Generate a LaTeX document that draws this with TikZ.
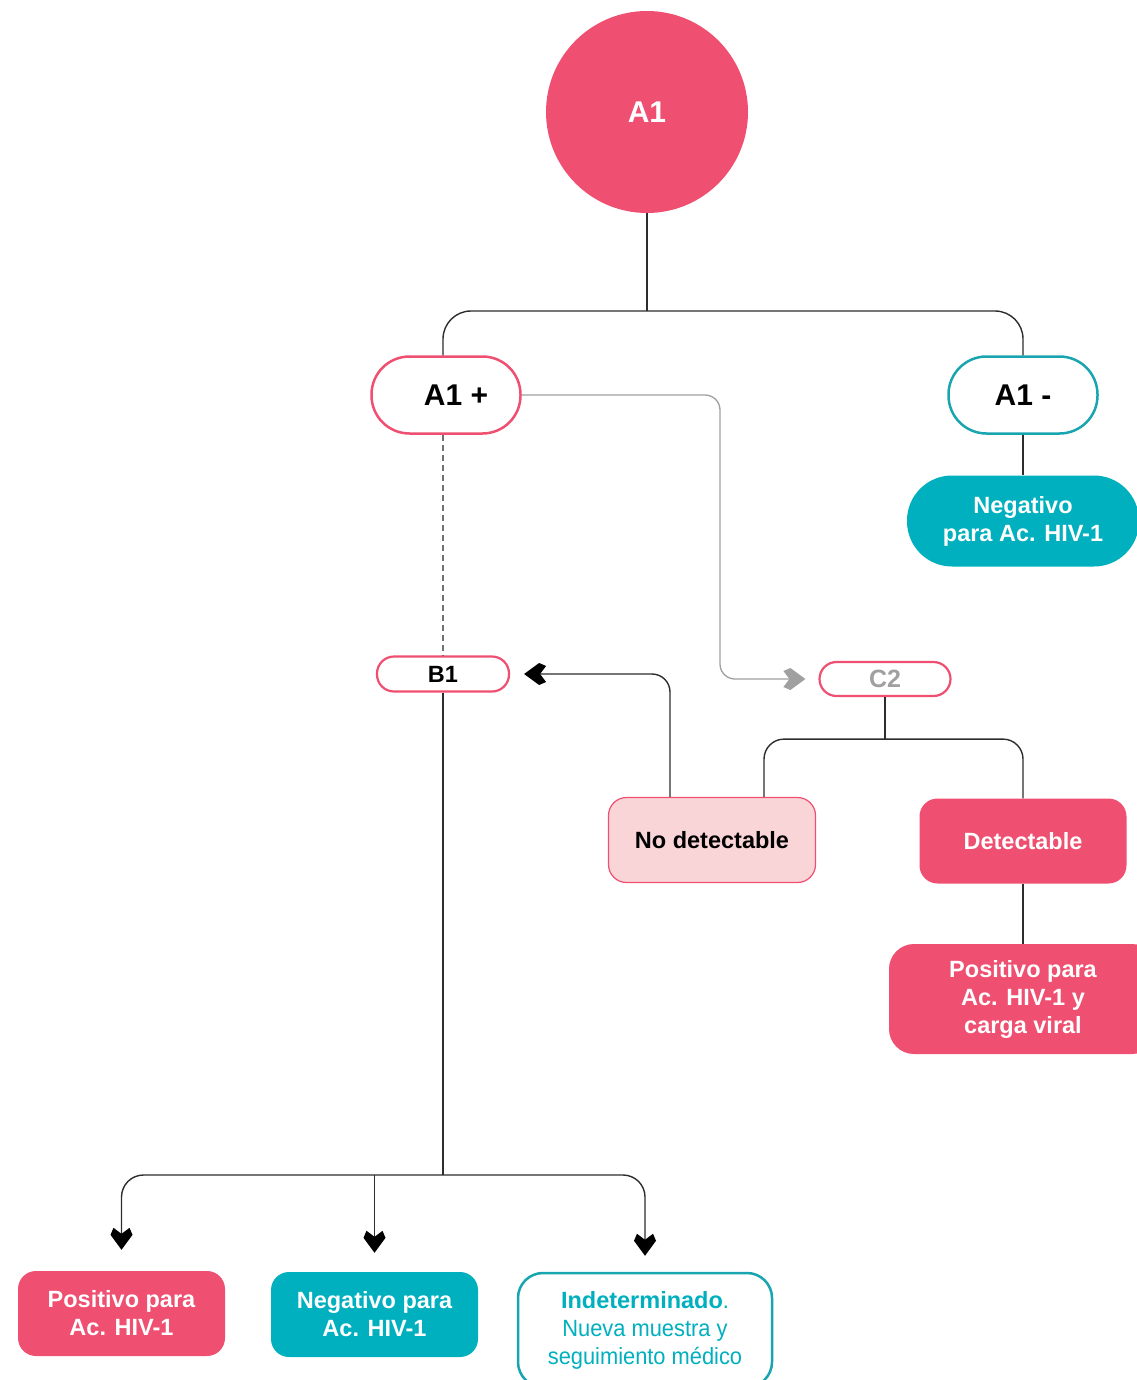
\documentclass[tikz,border=0pt]{standalone}
\usepackage{fontspec}
\setmainfont{Liberation Sans}
\newfontfamily\regnarrow[FakeStretch=0.93]{Liberation Sans}
\usetikzlibrary{arrows.meta}
\definecolor{pk}{RGB}{239,79,112}
\definecolor{tl}{RGB}{0,176,190}
\definecolor{tlb}{RGB}{25,165,176}
\definecolor{lpk}{RGB}{250,213,215}
\definecolor{gr}{RGB}{160,160,160}
\definecolor{ln}{RGB}{45,45,45}
\newcommand\szbig{\fontsize{30}{34}\selectfont\bfseries}
\newcommand\szmid{\fontsize{23.5}{28}\selectfont}
\newcommand\chevpath{%
    \pgfpathmoveto{\pgfqpoint{0pt}{0pt}}%
    \pgfpathlineto{\pgfqpoint{-15pt}{11pt}}%
    \pgfpathlineto{\pgfqpoint{-22pt}{8pt}}%
    \pgfpathlineto{\pgfqpoint{-16pt}{0pt}}%
    \pgfpathlineto{\pgfqpoint{-22pt}{-8pt}}%
    \pgfpathlineto{\pgfqpoint{-15pt}{-11pt}}%
    \pgfpathclose}
\pgfdeclarearrow{
  name=ChevK,
  setup code={
    \pgfarrowssettipend{0pt}
    \pgfarrowssetlineend{-14pt}
    \pgfarrowssetvisualbackend{-22pt}
    \pgfarrowssetbackend{-22pt}
    \pgfarrowshullpoint{0pt}{0pt}
    \pgfarrowshullpoint{-22pt}{11pt}
    \pgfarrowshullpoint{-22pt}{-11pt}
  },
  drawing code={\pgfsetfillcolor{black}\chevpath\pgfusepathqfill}
}
\pgfdeclarearrow{
  name=ChevG,
  setup code={
    \pgfarrowssettipend{0pt}
    \pgfarrowssetlineend{-14pt}
    \pgfarrowssetvisualbackend{-22pt}
    \pgfarrowssetbackend{-22pt}
    \pgfarrowshullpoint{0pt}{0pt}
    \pgfarrowshullpoint{-22pt}{11pt}
    \pgfarrowshullpoint{-22pt}{-11pt}
  },
  drawing code={\pgfsetfillcolor{gr}\chevpath\pgfusepathqfill}
}
\begin{document}
\begin{tikzpicture}[x=1pt,y=-1pt,
  conn/.style={draw=ln, line width=1.4pt},
  grayconn/.style={draw=gr, line width=1.3pt},
  dashconn/.style={draw=gr!70!black, line width=1.3pt, dash pattern=on 6pt off 4pt},
  chev/.style={-{ChevK}},
  chevg/.style={-{ChevG}},
  pill/.style={rectangle, inner sep=0pt, align=center},
  outpk/.style={pill, draw=pk, line width=2.5pt, fill=white},
  outtl/.style={pill, draw=tlb, line width=2.5pt, fill=white},
  box/.style={pill, minimum width=207pt, minimum height=85pt, rounded corners=18pt},
]
\useasboundingbox (0,0) rectangle (1136,1380);

% nodes
\node[circle, fill=pk, minimum size=202pt, inner sep=0pt, text=white, font=\szbig] (A1) at (647,112) {A1};
\node[outpk, minimum width=149pt, minimum height=77pt, rounded corners=38pt, font=\szbig] (A1p) at (446,395) {\hspace*{20pt}A1 +};
\node[outtl, minimum width=149pt, minimum height=77pt, rounded corners=38pt, font=\szbig] (A1m) at (1023,395) {A1 -};
\node[pill, fill=tl, text=white, minimum width=232pt, minimum height=91pt, rounded corners=45pt, font=\szmid\bfseries] (NegT) at (1023,521) {Negativo\\para Ac. HIV-1};
\node[outpk, line width=2.2pt, minimum width=132pt, minimum height=35pt, rounded corners=17pt, font=\szmid\bfseries] (B1) at (443,674) {B1};
\node[outpk, line width=2.2pt, minimum width=131pt, minimum height=34pt, rounded corners=17pt, font=\fontsize{25}{28}\selectfont\bfseries, text=gr] (C2) at (885,679) {C2};
\node[box, fill=lpk, draw=pk, line width=1.2pt, font=\szmid\bfseries] (ND) at (712,840) {No detectable};
\node[box, fill=pk, text=white, font=\szmid\bfseries] (Det) at (1023,841) {Detectable};
\node[pill, fill=pk, text=white, minimum width=268pt, minimum height=110pt, rounded corners=25pt, font=\szmid\bfseries] (PosR) at (1023,999) {Positivo para\\Ac. HIV-1 y\\carga viral};
\node[box, fill=pk, text=white, font=\szmid\bfseries] (Pos2) at (121.5,1313.5) {Positivo para\\Ac. HIV-1};
\node[box, fill=tl, text=white, font=\szmid\bfseries] (Neg2) at (374.5,1314.5) {Negativo para\\Ac. HIV-1};
\node[outtl, minimum width=254pt, minimum height=114pt, rounded corners=25pt, text=tl, font=\szmid] (Ind) at (645,1330) {\textbf{Indeterminado}{\regnarrow .}\\{\regnarrow Nueva muestra y}\\{\regnarrow seguimiento médico}};

% connectors
\coordinate (tj) at (647,311);
\draw[conn] (A1.south) -- (tj);
\draw[conn, rounded corners=28pt] (A1p.north -| B1.north) |- (tj) -| (A1m.north);
\draw[conn] (A1m.south) -- (NegT.north);
\draw[dashconn] (A1p.south -| B1.north) -- (B1.north);

\coordinate (g1) at (720,679);
\draw[grayconn, chevg, shorten >=13pt] (A1p.east) [rounded corners=15pt] -| (g1) [sharp corners] -- (C2.west);

\draw[conn] (C2.south) -- ++(0,42) coordinate (cj);
\draw[conn, rounded corners=20pt] ([xshift=52pt]ND.north) |- (cj) -| (Det.north);
\draw[conn] (Det.south) -- (PosR.north);

\draw[conn, chev, rounded corners=18pt, shorten >=14pt] ([xshift=-42pt]ND.north) |- (B1.east);

\coordinate (bj) at (443,1175);
\draw[conn] (B1.south) -- (bj);
\draw[conn, chev, rounded corners=22pt, shorten >=21pt] (bj) -| (Pos2.north);
\draw[conn, chev, shorten >=19pt] (Neg2.north |- bj) -- (Neg2.north);
\draw[conn, chev, rounded corners=22pt, shorten >=16pt] (bj) -| (Ind.north);
\end{tikzpicture}
\end{document}
